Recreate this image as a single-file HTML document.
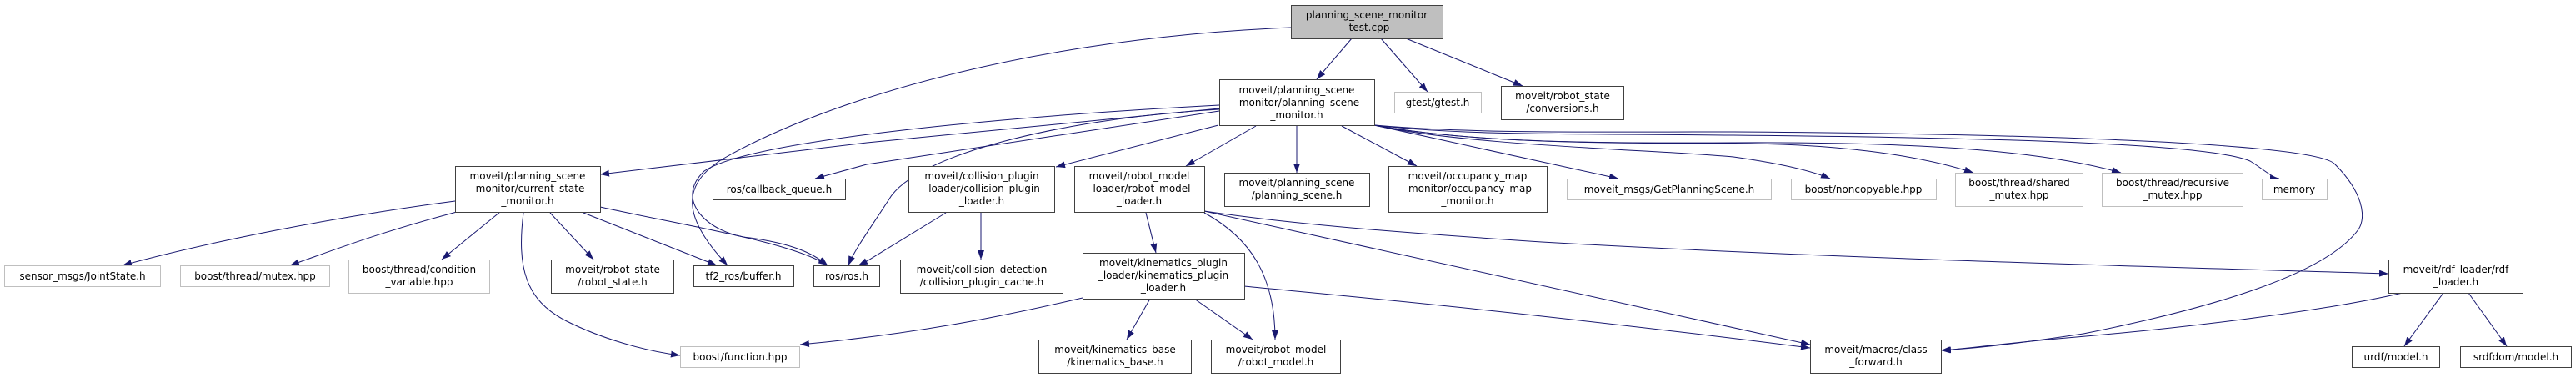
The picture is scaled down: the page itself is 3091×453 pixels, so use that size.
<!DOCTYPE html>
<html><head><meta charset="utf-8"><style>
html,body{margin:0;padding:0;background:#fff;}
svg{display:block;}
text{font-family:"DejaVu Sans","Liberation Sans",sans-serif;font-size:12px;fill:#000;}
</style></head><body>
<svg width="3091" height="453" viewBox="0 0 3091 453" xmlns="http://www.w3.org/2000/svg">
<defs><marker id="a" markerWidth="11" markerHeight="8" refX="11" refY="4" orient="auto" markerUnits="userSpaceOnUse"><path d="M0,0 L11,4 L0,8z" fill="#191970"/></marker></defs>
<g fill="none" stroke="#191970" stroke-width="1" marker-end="url(#a)">
<path d="M1622,46 L1580,95"/>
<path d="M1657,46 L1713,110"/>
<path d="M1687,46 L1827,103"/>
<path d="M1549,33 C1250,45 1000,115 868,190 C815,222 820,262 873,318"/>
<path d="M1463,126 C1200,140 900,168 845,205 C808,240 850,280 900,285 C950,292 975,303 993,318"/>
<path d="M1463,130 L1040,171 L720,209"/>
<path d="M1463,133 L1040,197 L978,214"/>
<path d="M1463,131 C1300,140 1100,180 1066,240 C1040,280 1025,300 1018,318"/>
<path d="M1462,150 L1267,200"/>
<path d="M1507,151 L1423,199"/>
<path d="M1556,150 L1556,207"/>
<path d="M1610,151 L1700,199"/>
<path d="M1649,150 L1942,214"/>
<path d="M1649,150 C1760,175 2000,180 2080,188 C2130,195 2170,203 2196,214"/>
<path d="M1649,150 C1760,170 1900,172 2080,172 C2200,172 2300,185 2368,207"/>
<path d="M1649,150 C1760,170 1900,172 2080,171 C2300,170 2450,180 2545,207"/>
<path d="M1649,150 C1760,163 1900,160 2080,162 C2400,165 2650,172 2700,193 C2712,200 2728,214 2735,214"/>
<path d="M1649,150 C1760,160 1900,158 2080,158 C2400,160 2780,170 2802,197 C2835,230 2840,260 2830,275 C2790,330 2650,370 2500,400 C2400,415 2360,418 2329,420"/>
<path d="M1375,255 L1387,303"/>
<path d="M1445,255 C1500,285 1530,330 1530,407"/>
<path d="M1445,253 C1560,270 1700,280 1850,290 C2200,310 2600,320 2866,328"/>
<path d="M1445,253 C1560,280 1800,330 2172,413"/>
<path d="M1493,343 C1560,350 1800,370 2172,417"/>
<path d="M1299,357 C1200,380 1100,400 960,413"/>
<path d="M1380,358 L1352,407"/>
<path d="M1433,358 L1503,407"/>
<path d="M1135,255 L1040,313 L1030,318"/>
<path d="M1177,255 L1177,311"/>
<path d="M546,241 C400,260 250,290 147,318"/>
<path d="M548,254 C450,280 400,300 348,318"/>
<path d="M600,254 L530,311"/>
<path d="M660,255 L712,311"/>
<path d="M700,255 L860,318"/>
<path d="M720,248 C820,270 950,290 993,318"/>
<path d="M628,255 C620,320 630,360 680,385 C720,405 770,420 816,426"/>
<path d="M2932,351 L2885,415"/>
<path d="M2962,351 L3008,415"/>
<path d="M2883,351 C2780,375 2600,395 2480,405 C2400,412 2360,418 2330,420"/>
</g>
<g stroke-width="1">
<rect x="1549.5" y="6.5" width="182" height="40" fill="#bfbfbf" stroke="#404040"/>
<g fill="#fff" stroke="#404040">
<rect x="1463.5" y="95.5" width="186" height="55"/>
<rect x="1801.5" y="103.5" width="147" height="40"/>
<rect x="546.5" y="199.5" width="174" height="55"/>
<rect x="855.5" y="214.5" width="159" height="25"/>
<rect x="1090.5" y="199.5" width="175" height="55"/>
<rect x="1289.5" y="199.5" width="156" height="55"/>
<rect x="1469.5" y="207.5" width="174" height="40"/>
<rect x="1666.5" y="199.5" width="190" height="55"/>
<rect x="661.5" y="311.5" width="147" height="40"/>
<rect x="832.5" y="318.5" width="120" height="25"/>
<rect x="976.5" y="318.5" width="79" height="25"/>
<rect x="1080.5" y="311.5" width="195" height="40"/>
<rect x="1299.5" y="303.5" width="194" height="55"/>
<rect x="2866.5" y="311.5" width="161" height="40"/>
<rect x="1246.5" y="407.5" width="183" height="40"/>
<rect x="1453.5" y="407.5" width="155" height="40"/>
<rect x="2172.5" y="407.5" width="157" height="40"/>
<rect x="2822.5" y="415.5" width="105" height="25"/>
<rect x="2952.5" y="415.5" width="133" height="25"/>
</g>
<g fill="#fff" stroke="#bfbfbf">
<rect x="1673.5" y="110.5" width="104" height="25"/>
<rect x="1880.5" y="214.5" width="245" height="25"/>
<rect x="2149.5" y="214.5" width="174" height="25"/>
<rect x="2346.5" y="207.5" width="153" height="40"/>
<rect x="2522.5" y="207.5" width="169" height="40"/>
<rect x="2714.5" y="214.5" width="78" height="25"/>
<rect x="5.5" y="318.5" width="187" height="25"/>
<rect x="216.5" y="318.5" width="179" height="25"/>
<rect x="418.5" y="311.5" width="169" height="40"/>
<rect x="816.5" y="415.5" width="143" height="25"/>
</g>
</g>
<g text-anchor="middle">
<text x="1640" y="22">planning_scene_monitor</text><text x="1640" y="37">_test.cpp</text>
<text x="1556" y="112">moveit/planning_scene</text><text x="1556" y="127">_monitor/planning_scene</text><text x="1556" y="142">_monitor.h</text>
<text x="1725" y="127">gtest/gtest.h</text>
<text x="1875" y="119">moveit/robot_state</text><text x="1875" y="134">/conversions.h</text>
<text x="633" y="215">moveit/planning_scene</text><text x="633" y="230">_monitor/current_state</text><text x="633" y="245">_monitor.h</text>
<text x="935" y="231">ros/callback_queue.h</text>
<text x="1178" y="215">moveit/collision_plugin</text><text x="1178" y="230">_loader/collision_plugin</text><text x="1178" y="245">_loader.h</text>
<text x="1367" y="215">moveit/robot_model</text><text x="1367" y="230">_loader/robot_model</text><text x="1367" y="245">_loader.h</text>
<text x="1556" y="223">moveit/planning_scene</text><text x="1556" y="238">/planning_scene.h</text>
<text x="1761" y="215">moveit/occupancy_map</text><text x="1761" y="230">_monitor/occupancy_map</text><text x="1761" y="245">_monitor.h</text>
<text x="2003" y="231">moveit_msgs/GetPlanningScene.h</text>
<text x="2236" y="231">boost/noncopyable.hpp</text>
<text x="2423" y="223">boost/thread/shared</text><text x="2423" y="238">_mutex.hpp</text>
<text x="2607" y="223">boost/thread/recursive</text><text x="2607" y="238">_mutex.hpp</text>
<text x="2753" y="231">memory</text>
<text x="99" y="335">sensor_msgs/JointState.h</text>
<text x="306" y="335">boost/thread/mutex.hpp</text>
<text x="503" y="327">boost/thread/condition</text><text x="503" y="342">_variable.hpp</text>
<text x="735" y="327">moveit/robot_state</text><text x="735" y="342">/robot_state.h</text>
<text x="892" y="335">tf2_ros/buffer.h</text>
<text x="1016" y="335">ros/ros.h</text>
<text x="1178" y="327">moveit/collision_detection</text><text x="1178" y="342">/collision_plugin_cache.h</text>
<text x="1396" y="319">moveit/kinematics_plugin</text><text x="1396" y="334">_loader/kinematics_plugin</text><text x="1396" y="349">_loader.h</text>
<text x="2947" y="327">moveit/rdf_loader/rdf</text><text x="2947" y="342">_loader.h</text>
<text x="888" y="432">boost/function.hpp</text>
<text x="1338" y="423">moveit/kinematics_base</text><text x="1338" y="438">/kinematics_base.h</text>
<text x="1531" y="423">moveit/robot_model</text><text x="1531" y="438">/robot_model.h</text>
<text x="2251" y="423">moveit/macros/class</text><text x="2251" y="438">_forward.h</text>
<text x="2875" y="432">urdf/model.h</text>
<text x="3019" y="432">srdfdom/model.h</text>
</g>
</svg>
</body></html>
